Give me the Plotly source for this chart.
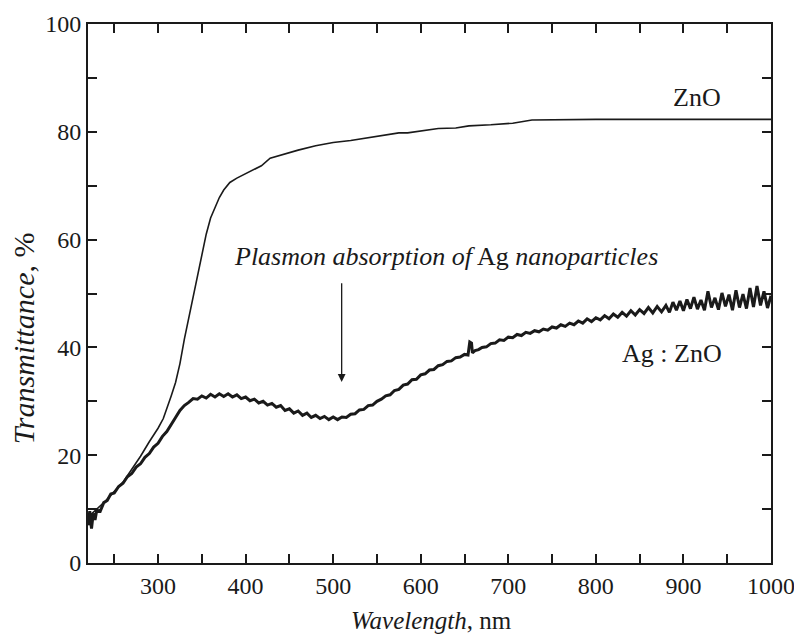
import plotly.graph_objects as go

# ZnO transmittance curve
zno_nm = [220, 240, 260, 270, 280, 290, 300, 306, 310, 315, 320, 325, 330, 335, 340, 345, 350, 355,
          360, 365, 370, 375, 382, 390, 400, 410, 418, 428, 440, 460, 480, 500, 520, 540, 560, 575,
          585, 600, 620, 640, 655, 680, 705, 727, 800, 1000]
zno_T = [8.5, 11.5, 15.0, 17.3, 19.8, 22.5, 25.0, 26.8, 28.5, 31.0, 33.5, 37.0, 41.5, 45.5, 49.5, 53.5, 57.5, 61.0,
         64.0, 66.0, 67.8, 69.2, 70.6, 71.4, 72.2, 73.0, 73.7, 75.1, 75.7, 76.6, 77.4, 78.0, 78.4, 78.9, 79.5, 79.8,
         79.8, 80.2, 80.6, 80.7, 81.1, 81.3, 81.6, 82.2, 82.3, 82.3]

# Ag:ZnO transmittance curve (noisy)
ag_nm = [220, 222, 224, 226, 228, 230, 234, 238, 242, 246, 250, 255, 260, 265, 270, 275, 280, 285, 290, 295,
         300, 305, 310, 315, 320, 325, 330, 335, 340, 345, 350, 355, 360, 365, 370, 375, 380, 385, 390, 395,
         400, 405, 410, 415, 420, 425, 430, 435, 440, 445, 450, 455, 460, 465, 470, 475, 480, 485, 490, 495,
         500, 505, 510, 515, 520, 525, 530, 535, 540, 545, 550, 555, 560, 565, 570, 575, 580, 585, 590, 595,
         600, 605, 610, 615, 620, 625, 630, 635, 640, 645, 650, 654, 656, 658, 659, 662, 666, 670, 675, 680,
         685, 690, 695, 700, 705, 710, 715, 720, 725, 730, 735, 740, 745, 750, 755, 760, 765, 770, 775, 780,
         785, 790, 795, 800, 805, 810, 815, 820, 825, 830, 835, 840, 845, 850, 855, 860, 865, 870, 875, 880,
         884, 888, 892, 896, 900, 904, 908, 912, 916, 920, 924, 928, 932, 936, 940, 944, 948, 952, 956, 960,
         964, 968, 972, 976, 980, 984, 988, 992, 996, 1000]
ag_T = [7.0, 9.6, 6.4, 9.2, 8.0, 9.8, 9.6, 11.2, 11.6, 12.8, 13.0, 14.2, 14.8, 16.0, 16.6, 17.8, 18.4, 19.6, 20.3, 21.5,
        22.2, 23.5, 24.4, 25.8, 27.0, 28.3, 29.2, 29.8, 30.5, 30.4, 31.0, 30.6, 31.3, 30.8, 31.4, 30.9, 31.4, 30.8, 31.2, 30.5,
        30.8, 30.1, 30.4, 29.7, 30.0, 29.3, 29.6, 28.9, 29.2, 28.3, 28.6, 27.8, 28.2, 27.4, 27.8, 27.0, 27.4, 26.8, 27.2, 26.6,
        27.1, 26.6, 27.1, 27.0, 27.6, 27.7, 28.4, 28.5, 29.2, 29.3, 30.0, 30.4, 31.0, 31.2, 32.0, 32.2, 33.0, 33.2, 34.0, 34.1,
        34.9, 35.1, 35.8, 35.9, 36.6, 36.8, 37.4, 37.5, 38.1, 38.2, 38.7, 38.6, 41.0, 40.8, 39.0, 39.4, 39.6, 40.0, 40.1, 40.7,
        40.8, 41.4, 41.3, 41.9, 41.8, 42.4, 42.2, 42.8, 42.6, 43.1, 42.9, 43.4, 43.2, 43.8, 43.6, 44.2, 43.9, 44.5, 44.2, 44.9,
        44.5, 45.3, 44.8, 45.5, 45.1, 45.9, 45.3, 46.2, 45.6, 46.5, 45.8, 46.8, 46.0, 47.0, 46.3, 47.4, 46.4, 47.6, 46.6, 47.8,
        46.5, 48.4, 46.9, 48.6, 46.8, 48.9, 47.2, 49.3, 47.1, 48.8, 46.9, 50.4, 47.4, 49.2, 47.0, 50.1, 47.6, 49.8, 46.9, 50.6,
        47.4, 49.9, 47.2, 51.0, 47.5, 51.4, 47.8, 50.4, 47.3, 49.6]

x_ticks = [300, 400, 500, 600, 700, 800, 900, 1000]
y_ticks = [0, 20, 40, 60, 80, 100]

FONT = "Liberation Serif"
INK = "#1a1a1a"

fig = go.Figure()
fig.add_trace(go.Scatter(x=zno_nm, y=zno_T, mode="lines",
                         line=dict(color=INK, width=1.6), showlegend=False))
fig.add_trace(go.Scatter(x=ag_nm, y=ag_T, mode="lines",
                         line=dict(color=INK, width=3), showlegend=False))

fig.add_annotation(x=915, y=86.3, text="ZnO", showarrow=False,
                   font=dict(family=FONT, size=26, color=INK))
fig.add_annotation(x=887, y=38.8, text="Ag : ZnO", showarrow=False,
                   font=dict(family=FONT, size=26, color=INK))
fig.add_annotation(x=629, y=56.8, text="<i>Plasmon absorption of</i> Ag <i>nanoparticles</i>",
                   showarrow=False, font=dict(family=FONT, size=26, color=INK))
fig.add_annotation(x=509.7, y=33.6, ax=509.7, ay=52.2, xref="x", yref="y", axref="x", ayref="y",
                   text="", showarrow=True, arrowhead=2, arrowsize=1.2, arrowwidth=1.3,
                   arrowcolor=INK)

# axis titles placed relative to the plot frame
fig.add_annotation(xref="paper", yref="paper", x=0.503, y=0, yshift=-57, yanchor="middle",
                   xanchor="center", showarrow=False,
                   text="<i>Wavelength</i>, nm", font=dict(family=FONT, size=25, color=INK))
fig.add_annotation(xref="paper", yref="paper", x=0, xshift=-65, y=0.417, xanchor="center",
                   yanchor="middle", showarrow=False, textangle=-90,
                   text="<i>Transmittance</i>, %", font=dict(family=FONT, size=30, color=INK))

axis_common = dict(showgrid=False, zeroline=False, showline=True, linecolor=INK, linewidth=2,
                   mirror="ticks", ticks="inside", ticklen=9, tickwidth=1.5, tickcolor=INK,
                   automargin=False, tickfont=dict(family=FONT, size=24, color=INK))

fig.update_xaxes(range=[220, 1000], tickvals=x_ticks, ticktext=[str(v) for v in x_ticks],
                 minor=dict(ticks="inside", dtick=50, tick0=0, ticklen=9, tickwidth=1.5, tickcolor=INK),
                 **axis_common)
fig.update_yaxes(range=[0, 100], tickvals=y_ticks, ticktext=[str(v) for v in y_ticks],
                 minor=dict(ticks="inside", dtick=10, tick0=0, ticklen=9, tickwidth=1.5, tickcolor=INK),
                 **axis_common)

fig.update_layout(width=794, height=629, margin=dict(l=80, r=31, t=16, b=74),
                  plot_bgcolor="white", paper_bgcolor="white")

fig.write_html("out.html")
